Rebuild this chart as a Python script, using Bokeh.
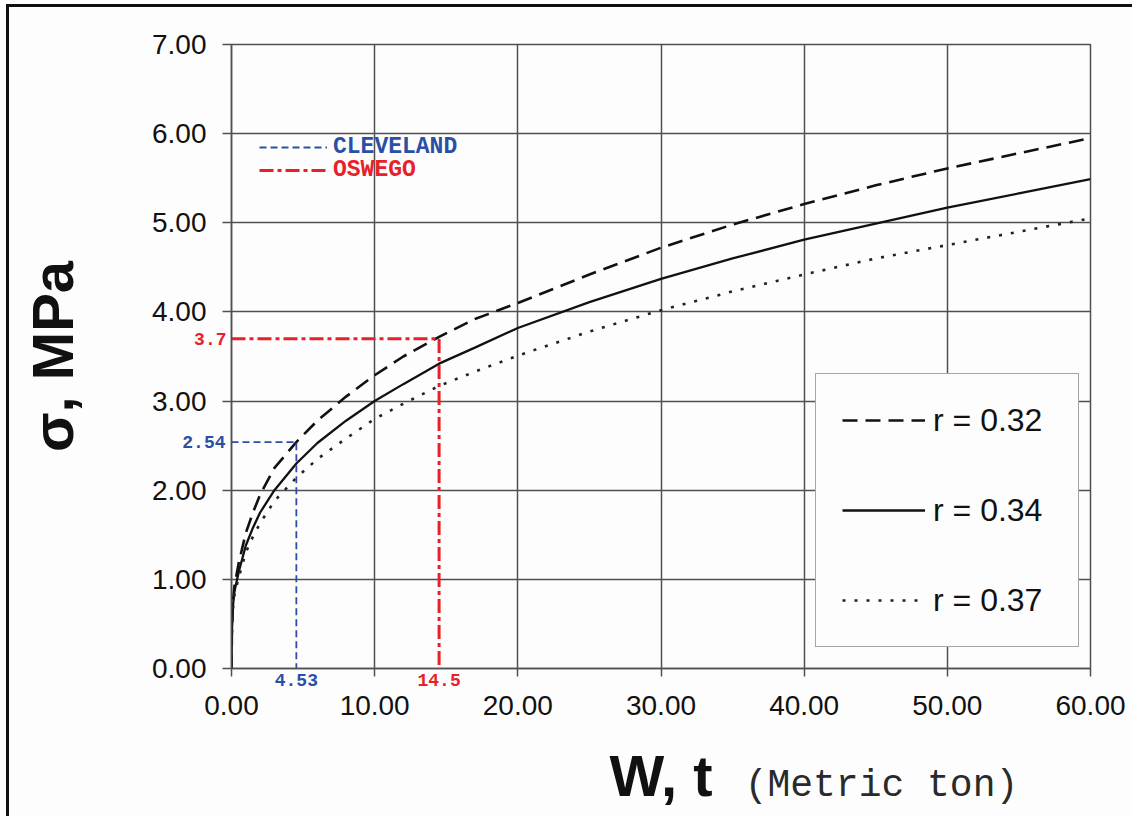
from bokeh.plotting import figure
from bokeh.models import (Range1d, Legend, LegendItem, NumeralTickFormatter, FixedTicker,
                          LinearAxis)
from bokeh.embed import file_html
from bokeh.resources import INLINE

# ---- data ----
W = [0, 0.03, 0.1, 0.2, 0.5, 1, 1.5, 2, 3, 4.53, 6, 8, 10, 12, 14.5, 17, 20,
     25, 30, 35, 40, 45, 50, 55, 60]
sigma_r032 = [0, 0.45, 0.75, 0.92, 1.18, 1.52, 1.75, 1.95, 2.25, 2.54, 2.78, 3.05,
              3.29, 3.50, 3.72, 3.92, 4.10, 4.42, 4.72, 4.98, 5.21, 5.42, 5.61, 5.78, 5.95]
sigma_r034 = [0, 0.42, 0.70, 0.86, 1.08, 1.38, 1.58, 1.75, 2.00, 2.30, 2.53, 2.78,
              3.00, 3.19, 3.42, 3.60, 3.82, 4.11, 4.37, 4.60, 4.81, 4.99, 5.17, 5.33, 5.49]
sigma_r037 = [0, 0.40, 0.66, 0.82, 1.02, 1.30, 1.48, 1.63, 1.88, 2.14, 2.35, 2.58,
              2.80, 2.97, 3.17, 3.33, 3.51, 3.78, 4.02, 4.23, 4.42, 4.60, 4.75, 4.90, 5.05]
series_labels = ["r = 0.32", "r = 0.34", "r = 0.37"]

cleveland_w, cleveland_s = 4.53, 2.54
oswego_w, oswego_s = 14.5, 3.7
cleveland_w_label, cleveland_s_label = "4.53", "2.54"
oswego_w_label, oswego_s_label = "14.5", "3.7"
unit_text = "(Metric ton)"

x_ticks = [0, 10, 20, 30, 40, 50, 60]
y_ticks = [0, 1, 2, 3, 4, 5, 6, 7]

BLUE = "#2a4fa6"
RED = "#e8202a"
INK = "#111111"
GRID = "#505050"
BG = "#fdfdfd"

H = 812
p = figure(width=1126, height=H, output_backend="svg", toolbar_location=None,
           x_range=Range1d(0, 60), y_range=Range1d(0, 7),
           min_border_left=222, min_border_top=37, min_border_right=45,
           min_border_bottom=151, background_fill_color=BG,
           border_fill_color=BG)
p.styles = {"border-left": "3px solid #111111", "border-top": "3px solid #111111",
            "margin-left": "6px", "margin-top": "4px"}

p.outline_line_color = GRID
p.outline_line_width = 1.5
p.grid.grid_line_color = GRID
p.grid.grid_line_width = 1.5
p.xgrid.ticker = FixedTicker(ticks=x_ticks)
p.ygrid.ticker = FixedTicker(ticks=y_ticks)

main_x = p.xaxis[0]
main_y = p.yaxis[0]
for ax in (main_x, main_y):
    ax.axis_line_color = None
    ax.major_tick_line_color = None
    ax.major_tick_out = 0
    ax.major_tick_in = 0
    ax.minor_tick_line_color = None
    ax.formatter = NumeralTickFormatter(format="0.00")
    ax.major_label_text_font = "Liberation Sans"
    ax.major_label_text_font_size = "28px"
    ax.major_label_text_color = INK
    ax.axis_label_text_font = "Liberation Sans"
    ax.axis_label_text_font_style = "bold"
    ax.axis_label_text_font_size = "58px"
    ax.axis_label_text_color = INK

main_x.ticker = FixedTicker(ticks=x_ticks)
main_y.ticker = FixedTicker(ticks=y_ticks)
main_x.major_label_standoff = 7
main_y.major_label_standoff = -27
main_x.axis_label = "W, t"
main_y.axis_label = "σ, MPa"
main_x.axis_label_standoff = 25
main_y.axis_label_standoff = 64


def extra_axis(ticks, overrides, color=INK, standoff=0, size="18px",
               font="Liberation Mono", style="bold", tick_out=0, line_color=None):
    return LinearAxis(ticker=FixedTicker(ticks=ticks), major_label_overrides=overrides,
                      axis_line_color=line_color, axis_line_width=1.5,
                      major_tick_line_color=line_color, major_tick_line_width=1.5,
                      major_tick_out=tick_out, major_tick_in=0,
                      minor_tick_line_color=None, major_label_standoff=standoff,
                      major_label_text_color=color, major_label_text_font=font,
                      major_label_text_font_size=size,
                      major_label_text_font_style=style)


# tick marks on the frame edge
ax_xt = extra_axis(x_ticks, {t: "" for t in x_ticks}, size="1px", tick_out=8,
                   line_color=GRID)
ax_yt = extra_axis(y_ticks, {t: "" for t in y_ticks}, size="1px", tick_out=9,
                   line_color=GRID)
# reading values beside the axes
ax_bx = extra_axis([cleveland_w], {cleveland_w: cleveland_w_label}, BLUE, -3)
ax_rx = extra_axis([oswego_w], {oswego_w: oswego_w_label}, RED, -15)
ax_ry = extra_axis([oswego_s], {oswego_s: oswego_s_label}, RED, -4)
ax_by = extra_axis([cleveland_s], {cleveland_s: cleveland_s_label}, BLUE, -34)
# unit note beside the x axis title
ax_unit = extra_axis([45.4], {45.4: unit_text}, "#2a2a2a", -47, size="38px",
                     style="normal")

p.below = [ax_xt, ax_bx, ax_rx, main_x, ax_unit]
p.left = [ax_yt, ax_ry, ax_by, main_y]

# curves
r1 = p.line(W, sigma_r032, line_color=INK, line_width=2.6, line_dash="15 8")
r2 = p.line(W, sigma_r034, line_color=INK, line_width=2.3)
r3 = p.line(W, sigma_r037, line_color="#222222", line_width=2.6, line_dash="3 9")

# reading lines
rc = p.line([0, cleveland_w, cleveland_w], [cleveland_s, cleveland_s, 0],
            line_color=BLUE, line_width=1.8, line_dash="7 4")
ro = p.line([0, oswego_w, oswego_w], [oswego_s, oswego_s, 0],
            line_color=RED, line_width=3, line_dash="14 4 4 4")

# small site legends
for lbl, rend, col, loc in (("CLEVELAND", rc, BLUE, (28, 508)),
                            ("OSWEGO", ro, RED, (28, 485))):
    lg = Legend(items=[LegendItem(label=lbl, renderers=[rend])], location=loc,
                glyph_width=68, glyph_height=20, label_height=20, label_standoff=6,
                padding=0, margin=0, border_line_alpha=0, background_fill_alpha=0,
                label_text_font="Liberation Mono", label_text_font_style="bold",
                label_text_font_size="23px", label_text_color=col)
    p.add_layout(lg)

# main legend
leg = Legend(items=[LegendItem(label=series_labels[0], renderers=[r1]),
                    LegendItem(label=series_labels[1], renderers=[r2]),
                    LegendItem(label=series_labels[2], renderers=[r3])],
             location=(584, 21), glyph_width=83, glyph_height=40, label_height=40,
             label_width=119, spacing=50, padding=26, margin=0, label_standoff=8,
             border_line_color=GRID, border_line_width=1.5,
             background_fill_color=BG, background_fill_alpha=1,
             label_text_font="Liberation Sans", label_text_font_size="32px",
             label_text_color=INK)
p.add_layout(leg)

open("out.html", "w").write(file_html(p, INLINE))
